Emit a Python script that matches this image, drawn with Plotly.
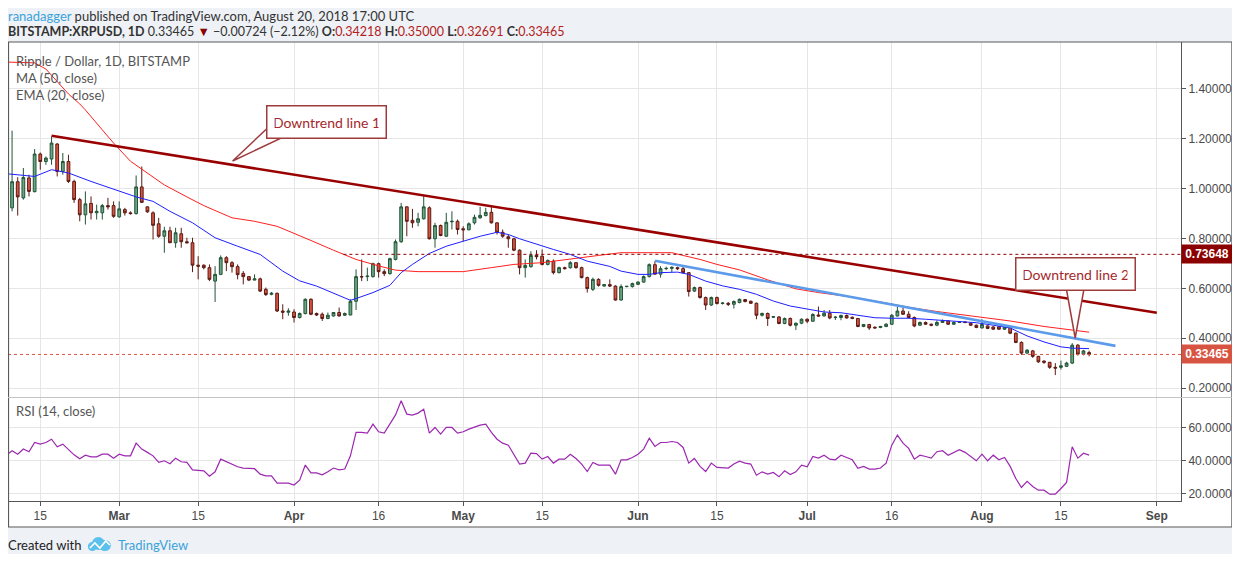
import pandas as pd
import plotly.graph_objects as go
from plotly.subplots import make_subplots

# BITSTAMP:XRPUSD daily candles, 9 Feb - 20 Aug 2018
first_day = "2018-02-09"

opens = [
    0.800, 0.923, 1.028, 0.963, 1.043, 0.988, 1.139, 1.109, 1.119, 1.179,
    1.069, 1.109, 1.029, 0.956, 0.895, 0.941, 0.903, 0.903, 0.932, 0.932,
    0.887, 0.916, 0.903, 0.900, 1.007, 0.927, 0.903, 0.859, 0.809, 0.831,
    0.783, 0.819, 0.787, 0.783, 0.693, 0.693, 0.683, 0.629, 0.656, 0.723,
    0.703, 0.687, 0.660, 0.647, 0.633, 0.638, 0.596, 0.576, 0.580, 0.509, 0.504,
    0.505, 0.483, 0.499, 0.556, 0.499, 0.496, 0.479, 0.489, 0.503, 0.492,
    0.493, 0.548, 0.647, 0.647, 0.647, 0.699, 0.667, 0.659, 0.716, 0.787,
    0.927, 0.873, 0.865, 0.879, 0.923, 0.799, 0.852, 0.809, 0.867, 0.869,
    0.839, 0.835, 0.863, 0.883, 0.892, 0.905, 0.863, 0.825, 0.807, 0.799,
    0.753, 0.683, 0.687, 0.732, 0.729, 0.696, 0.709, 0.663, 0.683, 0.683,
    0.703, 0.683, 0.643, 0.596, 0.636, 0.609, 0.615, 0.609, 0.553, 0.607, 0.607,
    0.616, 0.625, 0.647, 0.695, 0.657, 0.679, 0.680, 0.683, 0.679, 0.663,
    0.589, 0.603, 0.563, 0.533, 0.563, 0.539, 0.540, 0.536, 0.543, 0.555,
    0.548, 0.540, 0.492, 0.499, 0.484, 0.485, 0.459, 0.479, 0.452, 0.460,
    0.476, 0.468, 0.493, 0.489, 0.500, 0.483, 0.483, 0.491, 0.484, 0.479,
    0.447, 0.455, 0.444, 0.443, 0.447, 0.456, 0.489, 0.509, 0.496, 0.483,
    0.452, 0.463, 0.456, 0.452, 0.463, 0.469, 0.456, 0.463, 0.465, 0.460, 0.452,
    0.441, 0.449, 0.445, 0.446, 0.436, 0.443, 0.420, 0.383, 0.340, 0.349,
    0.327, 0.308, 0.303, 0.283, 0.283, 0.287, 0.300, 0.372, 0.336, 0.34218,
]
highs = [
    0.930, 1.233, 1.046, 1.083, 1.056, 1.159, 1.145, 1.129, 1.209, 1.183,
    1.143, 1.136, 1.036, 0.963, 0.989, 0.969, 0.936, 0.939, 0.963, 0.949,
    0.949, 0.923, 0.909, 1.053, 1.089, 0.929, 0.909, 0.883, 0.847, 0.847,
    0.843, 0.843, 0.803, 0.803, 0.729, 0.696, 0.696, 0.689, 0.732, 0.729,
    0.709, 0.696, 0.669, 0.649, 0.656, 0.643, 0.603, 0.585, 0.583, 0.536, 0.520,
    0.516, 0.503, 0.560, 0.560, 0.503, 0.503, 0.503, 0.505, 0.523, 0.503,
    0.556, 0.676, 0.716, 0.683, 0.703, 0.703, 0.676, 0.723, 0.796, 0.943,
    0.929, 0.919, 0.903, 0.972, 0.929, 0.863, 0.856, 0.903, 0.909, 0.876,
    0.849, 0.865, 0.896, 0.927, 0.923, 0.929, 0.865, 0.836, 0.816, 0.803,
    0.756, 0.716, 0.749, 0.753, 0.756, 0.716, 0.716, 0.687, 0.687, 0.709,
    0.705, 0.687, 0.647, 0.643, 0.640, 0.617, 0.636, 0.612, 0.616, 0.609, 0.623,
    0.629, 0.652, 0.700, 0.709, 0.689, 0.687, 0.689, 0.687, 0.687, 0.665,
    0.607, 0.607, 0.567, 0.567, 0.567, 0.545, 0.545, 0.552, 0.559, 0.557,
    0.551, 0.543, 0.503, 0.503, 0.489, 0.489, 0.483, 0.483, 0.463, 0.479,
    0.479, 0.500, 0.527, 0.513, 0.513, 0.489, 0.495, 0.495, 0.487, 0.481,
    0.457, 0.457, 0.447, 0.449, 0.460, 0.497, 0.525, 0.523, 0.508, 0.487,
    0.467, 0.467, 0.459, 0.471, 0.475, 0.472, 0.467, 0.468, 0.467, 0.463, 0.455,
    0.476, 0.452, 0.448, 0.449, 0.445, 0.447, 0.423, 0.387, 0.356, 0.353,
    0.329, 0.311, 0.305, 0.300, 0.310, 0.305, 0.380, 0.376, 0.353, 0.35000,
]
lows = [
    0.783, 0.909, 0.892, 0.956, 0.969, 0.985, 1.076, 1.096, 1.096, 1.049,
    1.056, 1.023, 0.943, 0.869, 0.856, 0.876, 0.876, 0.876, 0.916, 0.883,
    0.883, 0.892, 0.896, 0.896, 0.943, 0.903, 0.796, 0.803, 0.743, 0.783,
    0.763, 0.763, 0.780, 0.665, 0.636, 0.676, 0.629, 0.545, 0.653, 0.669,
    0.663, 0.636, 0.616, 0.629, 0.633, 0.585, 0.569, 0.572, 0.505, 0.476, 0.490,
    0.463, 0.479, 0.495, 0.492, 0.489, 0.469, 0.476, 0.487, 0.487, 0.489,
    0.492, 0.513, 0.629, 0.629, 0.643, 0.643, 0.649, 0.655, 0.712, 0.783,
    0.809, 0.843, 0.849, 0.876, 0.796, 0.763, 0.809, 0.807, 0.836, 0.816,
    0.789, 0.833, 0.856, 0.879, 0.889, 0.860, 0.816, 0.803, 0.763, 0.749,
    0.656, 0.643, 0.683, 0.716, 0.692, 0.692, 0.656, 0.660, 0.676, 0.679,
    0.679, 0.640, 0.583, 0.589, 0.607, 0.607, 0.605, 0.551, 0.551, 0.604, 0.603,
    0.613, 0.623, 0.644, 0.655, 0.643, 0.673, 0.665, 0.673, 0.660, 0.567,
    0.585, 0.559, 0.513, 0.529, 0.535, 0.535, 0.529, 0.519, 0.540, 0.544,
    0.537, 0.476, 0.487, 0.449, 0.481, 0.456, 0.456, 0.447, 0.433, 0.456,
    0.460, 0.465, 0.487, 0.487, 0.476, 0.473, 0.472, 0.479, 0.476, 0.444,
    0.444, 0.433, 0.439, 0.440, 0.444, 0.453, 0.487, 0.493, 0.479, 0.444,
    0.449, 0.453, 0.448, 0.448, 0.461, 0.453, 0.453, 0.461, 0.460, 0.449, 0.440,
    0.439, 0.436, 0.433, 0.433, 0.433, 0.416, 0.380, 0.333, 0.336, 0.321,
    0.301, 0.297, 0.277, 0.252, 0.274, 0.284, 0.296, 0.330, 0.331, 0.32691,
]
closes = [
    0.923, 1.028, 0.967, 1.045, 0.989, 1.139, 1.109, 1.123, 1.183, 1.069,
    1.109, 1.029, 0.956, 0.895, 0.939, 0.903, 0.909, 0.932, 0.927, 0.889,
    0.919, 0.903, 0.900, 1.007, 0.945, 0.907, 0.853, 0.809, 0.831, 0.783,
    0.823, 0.787, 0.783, 0.693, 0.689, 0.683, 0.636, 0.656, 0.723, 0.703,
    0.687, 0.655, 0.647, 0.633, 0.638, 0.589, 0.575, 0.580, 0.509, 0.504, 0.509,
    0.483, 0.499, 0.556, 0.496, 0.493, 0.479, 0.492, 0.503, 0.489, 0.499,
    0.548, 0.647, 0.646, 0.649, 0.699, 0.667, 0.659, 0.719, 0.787, 0.927,
    0.869, 0.863, 0.879, 0.927, 0.799, 0.852, 0.812, 0.865, 0.869, 0.836,
    0.835, 0.859, 0.885, 0.893, 0.905, 0.863, 0.825, 0.809, 0.799, 0.753,
    0.683, 0.692, 0.732, 0.727, 0.696, 0.712, 0.663, 0.683, 0.679, 0.703,
    0.683, 0.643, 0.599, 0.636, 0.612, 0.615, 0.609, 0.553, 0.607, 0.608, 0.619,
    0.625, 0.647, 0.695, 0.657, 0.679, 0.680, 0.684, 0.679, 0.663, 0.587,
    0.603, 0.563, 0.533, 0.563, 0.539, 0.541, 0.536, 0.547, 0.556, 0.547,
    0.540, 0.492, 0.499, 0.479, 0.486, 0.459, 0.479, 0.452, 0.460, 0.476,
    0.468, 0.495, 0.489, 0.500, 0.481, 0.484, 0.491, 0.481, 0.479, 0.447,
    0.455, 0.441, 0.441, 0.447, 0.456, 0.492, 0.509, 0.496, 0.483, 0.449,
    0.463, 0.456, 0.452, 0.463, 0.469, 0.456, 0.463, 0.465, 0.463, 0.452, 0.443,
    0.455, 0.439, 0.436, 0.436, 0.443, 0.420, 0.383, 0.340, 0.352, 0.327,
    0.305, 0.303, 0.283, 0.280, 0.289, 0.300, 0.372, 0.336, 0.349, 0.33465,
]
rsi14 = [
    43.1, 45.8, 43.7, 46.8, 45.2, 50.8, 49.8, 50.8, 52.8, 48.2,
    49.8, 46.4, 43.3, 40.9, 43.1, 42.1, 42.1, 43.7, 43.7, 41.3,
    43.7, 42.7, 42.7, 50.4, 46.8, 44.8, 42.7, 38.7, 39.7, 37.9,
    41.3, 39.1, 38.7, 34.2, 34.0, 33.6, 30.4, 33.0, 40.7, 39.1,
    37.7, 36.1, 35.3, 35.1, 34.9, 31.6, 30.6, 30.6, 26.2, 26.2, 26.2,
    25.0, 28.0, 37.1, 32.4, 32.4, 31.2, 33.0, 35.3, 34.2, 34.7,
    42.7, 56.9, 56.9, 56.5, 61.9, 57.3, 56.5, 61.9, 67.5, 76.1,
    68.0, 67.4, 68.6, 71.0, 56.5, 59.9, 55.9, 59.9, 59.9, 56.5,
    57.3, 58.9, 60.3, 61.3, 61.9, 56.9, 52.8, 50.4, 49.2, 43.7,
    37.7, 38.3, 44.3, 44.1, 40.7, 42.3, 38.3, 40.7, 40.7, 43.7,
    41.1, 37.7, 33.2, 38.7, 37.1, 37.1, 37.1, 31.6, 40.3, 40.3, 41.7,
    43.7, 46.8, 53.4, 48.4, 50.8, 50.8, 51.4, 50.8, 47.8, 38.3,
    41.1, 36.3, 33.2, 38.3, 35.7, 35.7, 35.3, 37.7, 39.5, 38.3,
    37.7, 31.0, 33.0, 31.6, 32.6, 30.0, 33.6, 31.4, 33.0, 37.1,
    36.1, 42.3, 41.3, 43.1, 40.7, 40.3, 43.1, 41.7, 40.3, 35.1,
    36.3, 34.7, 34.7, 35.3, 38.3, 49.2, 55.3, 50.4, 47.2, 40.7,
    43.1, 42.3, 41.3, 45.2, 45.8, 43.1, 44.8, 46.4, 44.8, 42.3, 39.7,
    43.7, 39.7, 43.1, 40.3, 41.7, 36.3, 29.0, 23.5, 27.2, 24.1,
    21.9, 21.9, 19.5, 19.5, 22.9, 26.6, 48.2, 41.3, 44.3, 43.1,
]

# MA (50, close) and EMA (20, close)
ma50_dates = [
    "2018-02-09", "2018-02-14", "2018-02-16", "2018-02-18", "2018-02-20",
    "2018-02-22", "2018-02-23", "2018-02-26", "2018-02-28", "2018-03-03",
    "2018-03-06", "2018-03-09", "2018-03-13", "2018-03-16", "2018-03-21",
    "2018-03-25", "2018-03-29", "2018-04-02", "2018-04-04", "2018-04-08",
    "2018-04-12", "2018-04-16", "2018-04-19", "2018-04-23", "2018-05-01",
    "2018-05-06", "2018-05-10", "2018-05-15", "2018-05-20", "2018-05-25",
    "2018-05-29", "2018-06-07", "2018-06-09", "2018-06-12", "2018-06-15",
    "2018-06-19", "2018-06-24", "2018-06-29", "2018-07-03", "2018-07-09",
    "2018-07-15", "2018-07-19", "2018-07-24", "2018-07-31", "2018-08-06",
    "2018-08-12", "2018-08-20",
]
ma50_vals = [
    1.508, 1.505, 1.480, 1.430, 1.380, 1.340, 1.316, 1.236, 1.183, 1.110,
    1.063, 1.015, 0.967, 0.932, 0.883, 0.869, 0.849, 0.812, 0.792, 0.753,
    0.716, 0.690, 0.673, 0.667, 0.667, 0.683, 0.696, 0.703, 0.719, 0.732,
    0.743, 0.743, 0.732, 0.716, 0.696, 0.674, 0.634, 0.598, 0.583, 0.565,
    0.541, 0.524, 0.507, 0.487, 0.469, 0.447, 0.424,
]
ema20_dates = [
    "2018-02-09", "2018-02-14", "2018-02-17", "2018-02-20", "2018-02-24",
    "2018-03-01", "2018-03-04", "2018-03-07", "2018-03-10", "2018-03-14",
    "2018-03-18", "2018-03-22", "2018-03-26", "2018-03-30", "2018-04-02",
    "2018-04-05", "2018-04-09", "2018-04-11", "2018-04-12", "2018-04-15",
    "2018-04-18", "2018-04-20", "2018-04-22", "2018-04-25", "2018-04-28",
    "2018-05-01", "2018-05-04", "2018-05-07", "2018-05-09", "2018-05-11",
    "2018-05-14", "2018-05-17", "2018-05-20", "2018-05-23", "2018-05-27",
    "2018-05-29", "2018-06-01", "2018-06-03", "2018-06-05", "2018-06-08",
    "2018-06-10", "2018-06-13", "2018-06-16", "2018-06-19", "2018-06-22",
    "2018-06-25", "2018-06-28", "2018-07-01", "2018-07-04", "2018-07-07",
    "2018-07-10", "2018-07-13", "2018-07-16", "2018-07-19", "2018-07-22",
    "2018-07-25", "2018-07-28", "2018-07-31", "2018-08-03", "2018-08-06",
    "2018-08-09", "2018-08-12", "2018-08-15", "2018-08-17", "2018-08-20",
]
ema20_vals = [
    1.060, 1.049, 1.076, 1.063, 1.029, 0.989, 0.967, 0.949, 0.909, 0.863,
    0.803, 0.769, 0.736, 0.669, 0.630, 0.609, 0.569, 0.552, 0.559, 0.583,
    0.612, 0.663, 0.696, 0.740, 0.769, 0.789, 0.809, 0.825, 0.816, 0.799,
    0.776, 0.756, 0.736, 0.709, 0.688, 0.669, 0.656, 0.656, 0.663, 0.665,
    0.656, 0.629, 0.610, 0.596, 0.576, 0.549, 0.529, 0.516, 0.505, 0.502,
    0.492, 0.482, 0.480, 0.480, 0.476, 0.472, 0.468, 0.462, 0.452, 0.441,
    0.409, 0.385, 0.365, 0.360, 0.358,
]

# drawn trend lines and levels
trend1_dates = ["2018-02-17", "2018-09-01"]
trend1_vals = [1.212, 0.502]
trend2_dates = ["2018-06-04", "2018-08-24 16:00"]
trend2_vals = [0.711, 0.369]
level_start = "2018-04-09 18:00"
level_price = 0.73648
last_price = 0.33465

x_range = ["2018-02-09 06:40", "2018-09-05 07:00"]
price_range = [0.1639, 1.5886]
rsi_range = [15.33, 77.76]
price_ticks = [0.2, 0.4, 0.6, 0.8, 1.0, 1.2, 1.4]
rsi_ticks = [20, 40, 60]
date_ticks = ["2018-02-15", "2018-03-01", "2018-03-15", "2018-04-01", "2018-04-16",
              "2018-05-01", "2018-05-15", "2018-06-01", "2018-06-15", "2018-07-01",
              "2018-07-16", "2018-08-01", "2018-08-15", "2018-09-01"]
date_labels = ["15", "<b>Mar</b>", "15", "<b>Apr</b>", "16", "<b>May</b>", "15",
               "<b>Jun</b>", "15", "<b>Jul</b>", "16", "<b>Aug</b>", "15", "<b>Sep</b>"]

n = len(closes)
assert len(opens) == n and len(highs) == n and len(lows) == n and len(rsi14) == n, \
    (len(opens), len(highs), len(lows), len(closes), len(rsi14))
dates = pd.date_range(first_day, periods=n, freq="D")

# the page body keeps its 8px margin, so the figure is drawn 8px in and 16px smaller
PAGE_W, PAGE_H, BODY = 1240, 562, 8
FIG_W, FIG_H = PAGE_W - 2 * BODY, PAGE_H - 2 * BODY
# plot area in page pixels, used to place the decorations
L, R, T, B = 8, 1183, 42, 501


def px(x):
    return (x - L) / (R - L)


def py(y):
    return (B - y) / (B - T)


GRID = "#E6E6E6"
AXIS = "#555555"
CALLOUT = "#9E3B3B"

fig = make_subplots(rows=2, cols=1, shared_xaxes=True, vertical_spacing=0)

fig.add_trace(go.Candlestick(
    x=dates, open=opens, high=highs, low=lows, close=closes,
    increasing=dict(line=dict(color="#225437", width=1), fillcolor="#6BA583"),
    decreasing=dict(line=dict(color="#5B1A13", width=1), fillcolor="#D75442"),
    whiskerwidth=0, hoverinfo="skip"), row=1, col=1)

fig.add_trace(go.Scatter(x=ma50_dates, y=ma50_vals, mode="lines",
                         line=dict(color="#FF1F1F", width=1)), row=1, col=1)
fig.add_trace(go.Scatter(x=ema20_dates, y=ema20_vals, mode="lines",
                         line=dict(color="#1F1FFF", width=1)), row=1, col=1)

# horizontal levels
fig.add_trace(go.Scatter(x=[level_start, x_range[1]], y=[level_price, level_price],
                         mode="lines", line=dict(color="#8B0000", width=1, dash="dot")),
              row=1, col=1)
fig.add_trace(go.Scatter(x=x_range, y=[last_price, last_price], mode="lines",
                         line=dict(color="#D75442", width=1, dash="dot")), row=1, col=1)

# trend lines
fig.add_trace(go.Scatter(x=trend1_dates, y=trend1_vals, mode="lines",
                         line=dict(color="#990000", width=2.6)), row=1, col=1)
fig.add_trace(go.Scatter(x=trend2_dates, y=trend2_vals, mode="lines",
                         line=dict(color="#5B9BEA", width=2.6)), row=1, col=1)

# RSI pane
fig.add_hrect(y0=30, y1=70, row=2, col=1, fillcolor="#F3E5FD", line_width=0, layer="below")
for lvl in (30, 70):
    fig.add_hline(y=lvl, row=2, col=1, line=dict(color="#A99CB5", width=1, dash="dash"))
fig.add_trace(go.Scatter(x=dates, y=rsi14, mode="lines",
                         line=dict(color="#9C27B0", width=1.2)), row=2, col=1)

# frame, pane separator, callout tails, logo
shapes = [
    dict(type="rect", xref="paper", yref="paper", x0=px(8.5), x1=px(1234), y0=py(527), y1=py(42),
         fillcolor="white", line=dict(width=0), layer="below"),
    dict(type="rect", xref="paper", yref="paper", x0=px(8.5), x1=px(1234), y0=py(527), y1=py(42),
         fillcolor="rgba(0,0,0,0)", line=dict(color="#5A5A5A", width=1.2), layer="above"),
    dict(type="line", xref="paper", yref="paper", x0=px(8), x1=px(1234), y0=py(397.5), y1=py(397.5),
         line=dict(color="#C4C4C4", width=1)),
    dict(type="path", xref="paper", yref="paper",
         path=f"M {px(268)},{py(128)} L {px(233)},{py(161)} L {px(284)},{py(137)} Z",
         fillcolor="white", line=dict(color=CALLOUT, width=1.5)),
    dict(type="path", xref="paper", yref="paper",
         path=f"M {px(1068)},{py(288)} L {px(1077)},{py(338)} L {px(1086)},{py(288)} Z",
         fillcolor="white", line=dict(color=CALLOUT, width=1.5)),
    dict(type="circle", xref="paper", yref="paper", x0=px(92), x1=px(105), y0=py(550), y1=py(537),
         fillcolor="#5BC0EB", line=dict(width=0)),
    dict(type="circle", xref="paper", yref="paper", x0=px(99), x1=px(111), y0=py(551), y1=py(540),
         fillcolor="#5BC0EB", line=dict(width=0)),
    dict(type="circle", xref="paper", yref="paper", x0=px(88), x1=px(97), y0=py(551), y1=py(542),
         fillcolor="#5BC0EB", line=dict(width=0)),
    dict(type="path", xref="paper", yref="paper",
         path=f"M {px(90)},{py(548)} L {px(95)},{py(543)} L {px(100)},{py(548)} L {px(106)},{py(541)} L {px(110)},{py(545)}",
         line=dict(color="white", width=1.6)),
]

hdr_font = dict(family="Lato, Open Sans, sans-serif", size=13, color="#333333")
val = "<span style='color:#B22222'>%s</span>"
header2 = ("<b>BITSTAMP:XRPUSD, 1D</b> 0.33465 <span style='color:#8B0000'>▼</span> "
           "−0.00724 (−2.12%) <b>O:</b>" + val % "0.34218" + " <b>H:</b>" + val % "0.35000"
           + " <b>L:</b>" + val % "0.32691" + " <b>C:</b>" + val % "0.33465")
legend_font = dict(family="Lato, Open Sans, sans-serif", size=13, color="#555555")

annotations = [
    dict(x=px(6), y=py(16.5), text="<span style='color:#3BA3DB'>ranadagger</span> published on "
         "TradingView.com, August 20, 2018 17:00 UTC", font=hdr_font),
    dict(x=px(6), y=py(31), text=header2, font=dict(hdr_font, size=12.5)),
    dict(x=px(14), y=py(61), text="Ripple / Dollar, 1D, BITSTAMP", font=legend_font),
    dict(x=px(14), y=py(78), text="MA (50, close)", font=legend_font),
    dict(x=px(14), y=py(95), text="EMA (20, close)", font=legend_font),
    dict(x=px(14), y=py(411), text="RSI (14, close)", font=legend_font),
    dict(x=px(6), y=py(545), text="Created with", font=dict(family="Lato", size=13, color="#222222")),
    dict(x=px(116), y=py(545), text="TradingView", font=dict(family="Lato", size=13, color="#3BA3DB")),
]
for a in annotations:
    a.update(xref="paper", yref="paper", xanchor="left", yanchor="middle", showarrow=False)

for text, cx, cy in (("Downtrend line 1", 327.5, 122.5), ("Downtrend line 2", 1077, 273.5)):
    annotations.append(dict(
        x=px(cx), y=py(cy), xref="paper", yref="paper", xanchor="center", yanchor="middle",
        text=text, showarrow=False, width=104, height=17,
        font=dict(family="Lato, sans-serif", size=14, color="#A3282B"),
        bgcolor="white", bordercolor=CALLOUT, borderwidth=1.5, borderpad=7))

for price, colour in ((level_price, "#8B0000"), (last_price, "#D75442")):
    annotations.append(dict(
        x=1.0, y=price, xref="paper", yref="y", xanchor="left", yanchor="middle",
        text="<b>%.5f</b>" % price, showarrow=False, width=46, borderpad=2, bgcolor=colour,
        font=dict(family="Liberation Sans, Arial", size=12, color="white")))

tick_font = dict(family="Liberation Sans, Arial", size=12, color="#4A4A4A")

fig.update_layout(
    width=FIG_W, height=FIG_H, autosize=False,
    margin=dict(l=L - BODY, r=FIG_W + BODY - R, t=T - BODY, b=FIG_H + BODY - B),
    paper_bgcolor="#EEF1F5", plot_bgcolor="white",
    showlegend=False,
    shapes=list(fig.layout.shapes) + shapes,
    annotations=annotations,
    xaxis=dict(range=x_range, tickvals=date_ticks, showticklabels=False, showgrid=True,
               gridcolor=GRID, rangeslider=dict(visible=False), showline=False, ticks=""),
    xaxis2=dict(range=x_range, tickvals=date_ticks, ticktext=date_labels, showgrid=True,
                gridcolor=GRID, showline=True, linecolor=AXIS, linewidth=1, ticks="outside",
                ticklen=4, tickcolor=AXIS, tickfont=tick_font),
    yaxis=dict(domain=[py(397), 1], range=price_range, side="right", tickvals=price_ticks,
               tickformat=".5f", showgrid=True, gridcolor=GRID, zeroline=False,
               showline=True, linecolor=AXIS, ticks="outside", ticklen=4, tickcolor=AXIS,
               tickfont=tick_font),
    yaxis2=dict(domain=[0, py(398)], range=rsi_range, side="right", tickvals=rsi_ticks,
                tickformat=".4f", showgrid=True, gridcolor=GRID, zeroline=False,
                showline=True, linecolor=AXIS, ticks="outside", ticklen=4, tickcolor=AXIS,
                tickfont=tick_font),
)

fig.write_html("out.html")
